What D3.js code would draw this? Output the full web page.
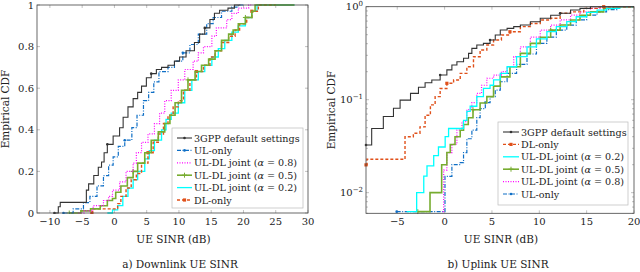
<!DOCTYPE html>
<html>
<head>
<meta charset="utf-8">
<style>
  body { margin: 0; background: #fff; }
  text { font-family: 'DejaVu Serif', 'Liberation Serif', serif; fill: #222; }
  .tick-label { font-size: 10px; }
  .axis-title { font-size: 10.5px; }
  .caption { font-size: 10.5px; }
  .legend-text { font-size: 9.6px; }
</style>
</head>
<body>
<svg width="640" height="272"></svg>
<script src="https://d3js.org/d3.v7.min.js"></script>
<script>
// ---- data: CDF breakpoints [SINR dB, F] ----
// a) Downlink
const dl3gpp = [[-9.3,0],[-8.7,0.03],[-8.4,0.051],[-4.35,0.11],[-4,0.14],[-3.2,0.18],[-2.5,0.22],[-2,0.245],[-1.6,0.29],[-1.1,0.33],[-0.2,0.37],[0.8,0.41],[1.35,0.46],[2.1,0.51],[2.9,0.55],[3.6,0.58],[4.2,0.61],[4.95,0.65],[5.7,0.67],[6.5,0.69],[7.3,0.70],[8.3,0.71],[9.3,0.73],[10.1,0.75],[11.1,0.78],[12.4,0.82],[13.2,0.86],[14,0.89],[14.8,0.93],[15.5,0.96],[16.3,0.975],[17.6,0.985],[18.6,1],[19.5,1]];
const dlUl = [[-7.9,0],[-6.4,0.02],[-4.8,0.05],[-3.8,0.08],[-2.7,0.13],[-1.7,0.18],[-0.9,0.23],[-0.2,0.27],[0.6,0.32],[1.6,0.35],[2.7,0.41],[3.5,0.47],[4.5,0.54],[5.3,0.58],[6.1,0.63],[6.9,0.68],[8.3,0.70],[9.3,0.73],[10.6,0.77],[11.7,0.81],[13,0.86],[14.3,0.91],[15.3,0.94],[16.6,0.97],[18.2,0.99],[19.2,1],[20,1]];
const dlJ08 = [[-5.6,0],[-4.7,0.01],[-3.3,0.035],[-1.7,0.06],[-0.9,0.08],[-0.3,0.11],[0.8,0.15],[1.8,0.2],[2.9,0.24],[3.4,0.29],[4.2,0.34],[5.2,0.38],[6.2,0.43],[7,0.48],[7.8,0.54],[8.8,0.59],[9.9,0.64],[10.9,0.69],[12.2,0.73],[13,0.77],[13.8,0.8],[15.1,0.85],[15.8,0.89],[17.4,0.93],[18.2,0.96],[19.2,0.985],[20.8,1],[21.5,1]];
const dlJ05 = [[-7,0],[-5.2,0.01],[-3.7,0.02],[-2.2,0.035],[-1.1,0.06],[-0.3,0.07],[0.2,0.1],[1,0.13],[2,0.17],[2.9,0.2],[3.6,0.24],[4.7,0.29],[5.7,0.35],[6.8,0.39],[7.8,0.43],[8.6,0.47],[9.4,0.53],[10.4,0.59],[11.4,0.64],[12.5,0.68],[13.5,0.71],[14.6,0.74],[15.6,0.78],[16.6,0.83],[17.7,0.86],[18.4,0.88],[19.2,0.91],[20.3,0.94],[21.3,0.97],[21.8,1],[27.9,1]];
const dlJ02 = [[-1.1,0],[-0.3,0.015],[0.5,0.035],[1.3,0.08],[2.1,0.12],[2.9,0.16],[3.6,0.2],[4.7,0.26],[5.4,0.3],[6.2,0.35],[7.3,0.4],[8,0.45],[8.8,0.48],[9.9,0.53],[10.9,0.59],[12,0.64],[13,0.68],[14,0.71],[15.1,0.75],[16.1,0.79],[17.1,0.83],[18.2,0.87],[19.2,0.9],[20.3,0.94],[21.3,0.97],[22.1,1],[27.9,1]];
const dlDl = [[-3.5,0],[-3.4,0.02],[-0.2,0.02],[0.5,0.045],[1,0.08],[1.8,0.12],[2.6,0.16],[3.4,0.19],[4.2,0.24],[5.2,0.29],[6,0.34],[6.8,0.38],[7.6,0.43],[8.3,0.47],[9.1,0.51],[9.9,0.54],[10.7,0.59],[11.7,0.64],[12.7,0.68],[13.8,0.71],[14.8,0.75],[15.6,0.78],[16.6,0.82],[17.7,0.85],[18.7,0.88],[19.4,0.91],[20.5,0.94],[21.3,0.97],[22.3,1],[25,1]];

// b) Uplink
const ul3gpp = [[-8.3,0.0326],[-7.7,0.049],[-6.47,0.066],[-5.4,0.081],[-4.7,0.099],[-3.6,0.117],[-2.76,0.136],[-2.06,0.152],[-1.35,0.163],[-0.47,0.184],[0.24,0.209],[0.77,0.236],[1.3,0.256],[2,0.279],[2.53,0.315],[2.88,0.356],[3.4,0.387],[4.1,0.403],[4.8,0.438],[5.35,0.496],[5.88,0.561],[6.6,0.585],[7.3,0.61],[8,0.635],[9.06,0.69],[10.1,0.75],[11.2,0.81],[12.2,0.85],[13.3,0.92],[14.3,0.96],[15.4,1],[20,1]];
const ulDl = [[-8.3,0.0199],[-8.2,0.0229],[-4.18,0.04],[-3.3,0.0435],[-2.6,0.051],[-2.06,0.068],[-1.5,0.088],[-1,0.108],[-0.47,0.132],[0.24,0.15],[0.95,0.163],[1.65,0.192],[2.35,0.226],[3.05,0.29],[3.75,0.342],[4.46,0.387],[5.17,0.438],[6,0.496],[6.9,0.538],[8,0.61],[9.06,0.66],[10.1,0.72],[11.2,0.75],[12.2,0.85],[13.3,0.88],[14.7,0.96],[16.1,0.99],[16.8,1],[20,1]];
const ulJ02 = [[-4,0.00625],[-2.95,0.01],[-2.2,0.0151],[-1.86,0.0194],[-1.15,0.025],[-0.65,0.031],[0.06,0.04],[0.42,0.049],[2,0.06],[2.35,0.075],[2.7,0.085],[3.4,0.108],[4.1,0.132],[4.8,0.143],[5.17,0.163],[5.88,0.192],[6.6,0.226],[7.6,0.29],[8.7,0.37],[9.7,0.45],[10.8,0.54],[11.8,0.61],[12.9,0.69],[13.9,0.78],[15,0.87],[16.1,0.92],[17.1,0.96],[18.5,1],[20,1]];
const ulJ05 = [[-2.83,0.00625],[-1.54,0.01],[-0.31,0.02],[0.24,0.027],[0.6,0.033],[1.1,0.04],[1.65,0.047],[2,0.054],[2.5,0.064],[3,0.078],[3.75,0.092],[4.46,0.108],[5.17,0.14],[5.88,0.176],[6.9,0.226],[8,0.315],[9.06,0.403],[10.1,0.47],[11.2,0.56],[12.2,0.635],[13.3,0.72],[14.3,0.81],[15.4,0.88],[16.8,0.96],[17.8,1],[20,1]];
const ulJ08 = [[-0.2,0.00625],[-0.1,0.0175],[0.24,0.027],[0.77,0.033],[1.3,0.047],[1.83,0.058],[2.35,0.078],[2.88,0.093],[3.4,0.117],[3.9,0.143],[4.46,0.17],[5.17,0.184],[6,0.2],[6.6,0.226],[7.3,0.29],[8,0.37],[9.06,0.47],[10.1,0.56],[11.2,0.635],[12.2,0.72],[13.3,0.81],[14.3,0.88],[15.4,0.96],[16.4,1],[20,1]];
const ulUl = [[-5.06,0.00625],[0.04,0.015],[0.77,0.02],[1.65,0.021],[2,0.027],[2.35,0.038],[2.88,0.047],[3.4,0.064],[3.75,0.08],[4.3,0.093],[4.8,0.108],[5.35,0.127],[5.88,0.156],[6.6,0.192],[7.6,0.24],[8.7,0.31],[9.7,0.403],[10.8,0.47],[11.8,0.56],[12.9,0.635],[13.9,0.72],[15,0.81],[16.1,0.88],[17.1,0.93],[18.2,1],[20,1]];

const dlTicksX = [-10, -5, 0, 5, 10, 15, 20, 25, 30];
const dlTicksY = [0, 0.2, 0.4, 0.6, 0.8, 1];
const ulTicksX = [-5, 0, 5, 10, 15, 20];
const ulTicksY = [0.01, 0.1, 1];
const ulTickLabels = [["10", "−2"], ["10", "−1"], ["10", "0"]];

// styles per series
const styles = {
  g3: { label: "3GPP default settings", color: "#333333", dash: null, width: 1.1, mark: "dot" },
  ul: { label: "UL-only", color: "#0f6fc6", dash: "4,1.5,1,1.5", width: 1.2, mark: "dot" },
  j8: { label: "UL-DL joint (α = 0.8)", color: "#ff00ff", dash: "1,1.5", width: 1.2, mark: null },
  j5: { label: "UL-DL joint (α = 0.5)", color: "#77ac30", dash: null, width: 1.6, mark: "plus" },
  j2: { label: "UL-DL joint (α = 0.2)", color: "#00ffff", dash: null, width: 1.3, mark: null },
  dl: { label: "DL-only", color: "#e0501a", dash: "3,2", width: 1.4, mark: "square" }
};

let svg = d3.select("svg");
let fmt = d => d < 0 ? "−" + Math.abs(d) : String(d);

function drawMarks(g, pts, st, x, y) {
  if (!st.mark) return;
  let sel = pts.filter((d, i) => i % 9 === 0);
  if (st.mark === "plus") {
    g.selectAll(null).data(sel).join("path")
      .attr("d", d => `M${x(d[0]) - 2.5},${y(d[1])}h5M${x(d[0])},${y(d[1]) - 2.5}v5`)
      .attr("stroke", st.color).attr("stroke-width", 1);
  } else if (st.mark === "square") {
    g.selectAll(null).data(sel).join("rect")
      .attr("x", d => x(d[0]) - 1.6).attr("y", d => y(d[1]) - 1.6)
      .attr("width", 3.2).attr("height", 3.2).attr("fill", st.color);
  } else {
    g.selectAll(null).data(sel).join("circle")
      .attr("cx", d => x(d[0])).attr("cy", d => y(d[1])).attr("r", 1.3)
      .attr("fill", st.color);
  }
}

function drawPanel(o) {
  let x = d3.scaleLinear().domain(o.xDomain).range([o.left, o.right]);
  let y = (o.log ? d3.scaleLog() : d3.scaleLinear()).domain(o.yDomain).range([o.bottom, o.top]);
  let g = svg.append("g");

  // inward ticks on all four sides
  let tk = g.append("g").attr("stroke", "#999").attr("stroke-width", 0.6);
  o.ticksX.forEach(t => {
    tk.append("line").attr("x1", x(t)).attr("x2", x(t)).attr("y1", o.bottom).attr("y2", o.bottom - 3);
    tk.append("line").attr("x1", x(t)).attr("x2", x(t)).attr("y1", o.top).attr("y2", o.top + 3);
  });
  if (o.log) {
    for (let e = -3; e < 0; e++) for (let m = 2; m <= 9; m++) {
      let v = m * Math.pow(10, e);
      if (v >= o.yDomain[0] && v <= o.yDomain[1]) {
        tk.append("line").attr("x1", o.left).attr("x2", o.left + 2).attr("y1", y(v)).attr("y2", y(v));
        tk.append("line").attr("x1", o.right).attr("x2", o.right - 2).attr("y1", y(v)).attr("y2", y(v));
      }
    }
  }
  o.ticksY.forEach(t => {
    tk.append("line").attr("x1", o.left).attr("x2", o.left + 3).attr("y1", y(t)).attr("y2", y(t));
    tk.append("line").attr("x1", o.right).attr("x2", o.right - 3).attr("y1", y(t)).attr("y2", y(t));
  });

  // curves
  let clipId = "clip" + o.id;
  svg.append("clipPath").attr("id", clipId).append("rect")
    .attr("x", o.left - 2).attr("y", o.top - 2).attr("width", o.right - o.left + 4).attr("height", o.bottom - o.top + 3);
  let cg = g.append("g").attr("clip-path", `url(#${clipId})`);
  let line = d3.line().x(d => x(d[0])).y(d => y(d[1])).curve(d3.curveStepAfter);
  o.series.forEach(s => {
    let st = styles[s.key];
    cg.append("path").datum(s.data)
      .attr("fill", "none").attr("stroke", st.color).attr("stroke-width", st.width)
      .attr("stroke-dasharray", st.dash).attr("d", line);
    drawMarks(cg, s.data, st, x, y);
  });

  // frame
  g.append("rect").attr("x", o.left).attr("y", o.top)
    .attr("width", o.right - o.left).attr("height", o.bottom - o.top)
    .attr("fill", "none").attr("stroke", "#444").attr("stroke-width", 0.8);

  // tick labels
  o.ticksX.forEach(t => {
    g.append("text").attr("class", "tick-label").attr("x", x(t)).attr("y", o.bottom + 12)
      .attr("text-anchor", "middle").text(fmt(t));
  });
  o.ticksY.forEach((t, i) => {
    let tx = g.append("text").attr("class", "tick-label").attr("x", o.left - 3).attr("y", y(t) + 3.5)
      .attr("text-anchor", "end");
    if (o.log) {
      tx.append("tspan").text(o.yLabels[i][0]);
      tx.append("tspan").attr("dy", -4).attr("font-size", "7px").text(o.yLabels[i][1]);
    } else tx.text(fmt(t));
  });

  g.append("text").attr("class", "axis-title").attr("x", (o.left + o.right) / 2 + 1).attr("y", 243)
    .attr("text-anchor", "middle").text("UE SINR (dB)");
  g.append("text").attr("class", "axis-title")
    .attr("transform", `translate(${o.yTitleX},${(o.top + o.bottom) / 2}) rotate(-90)`)
    .attr("text-anchor", "middle").text("Empirical CDF");
  g.append("text").attr("class", "caption").attr("x", o.captionX).attr("y", 268)
    .attr("text-anchor", "middle").text(o.caption);

  // legend
  let lg = g.append("g");
  lg.append("rect").attr("x", o.legend.x).attr("y", o.legend.y).attr("width", o.legend.w).attr("height", o.legend.h)
    .attr("fill", "#fff").attr("stroke", "#bbb").attr("stroke-width", 0.7);
  o.legendKeys.forEach((k, i) => {
    let st = styles[k];
    let ly = o.legend.y + 10 + i * 12.4;
    let x0 = o.legend.x + o.legend.pad, x1 = x0 + o.legend.len;
    lg.append("line").attr("x1", x0).attr("x2", x1).attr("y1", ly).attr("y2", ly)
      .attr("stroke", st.color).attr("stroke-width", st.width).attr("stroke-dasharray", st.dash);
    let mx = (x0 + x1) / 2;
    if (st.mark === "plus") lg.append("path").attr("d", `M${mx - 2.5},${ly}h5M${mx},${ly - 2.5}v5`).attr("stroke", st.color);
    else if (st.mark === "square") lg.append("rect").attr("x", mx - 1.6).attr("y", ly - 1.6).attr("width", 3.2).attr("height", 3.2).attr("fill", st.color);
    else if (st.mark === "dot") lg.append("circle").attr("cx", mx).attr("cy", ly).attr("r", 1.3).attr("fill", st.color);
    let t = lg.append("text").attr("class", "legend-text").attr("x", x1 + 2).attr("y", ly + 3.5);
    let lab = st.label;
    if (lab.indexOf("α") >= 0) {
      let parts = lab.split("α");
      t.append("tspan").text(parts[0]);
      t.append("tspan").attr("font-style", "italic").text("α");
      t.append("tspan").text(parts[1]);
    } else t.text(lab);
  });
}

drawPanel({
  id: "a", left: 37, right: 308, top: 5, bottom: 213,
  xDomain: [-12, 30], yDomain: [0, 1], log: false,
  ticksX: dlTicksX, ticksY: dlTicksY,
  yTitleX: 9, captionX: 180, caption: "a) Downlink UE SINR",
  series: [
    { key: "j2", data: dlJ02 }, { key: "dl", data: dlDl }, { key: "j5", data: dlJ05 },
    { key: "j8", data: dlJ08 }, { key: "ul", data: dlUl }, { key: "g3", data: dl3gpp }
  ],
  legendKeys: ["g3", "ul", "j8", "j5", "j2", "dl"],
  legend: { x: 172, y: 128, w: 131, h: 80, pad: 5, len: 15 }
});

drawPanel({
  id: "b", left: 366, right: 634, top: 6.7, bottom: 213.3,
  xDomain: [-8.3, 20], yDomain: [0.006, 1], log: true,
  ticksX: ulTicksX, ticksY: ulTicksY, yLabels: ulTickLabels,
  yTitleX: 335, captionX: 498, caption: "b) Uplink UE SINR",
  series: [
    { key: "ul", data: ulUl }, { key: "j8", data: ulJ08 }, { key: "j5", data: ulJ05 },
    { key: "j2", data: ulJ02 }, { key: "dl", data: ulDl }, { key: "g3", data: ul3gpp }
  ],
  legendKeys: ["g3", "dl", "j2", "j5", "j8", "ul"],
  legend: { x: 498, y: 122, w: 130, h: 83, pad: 5, len: 16 }
});
</script>
</body>
</html>
